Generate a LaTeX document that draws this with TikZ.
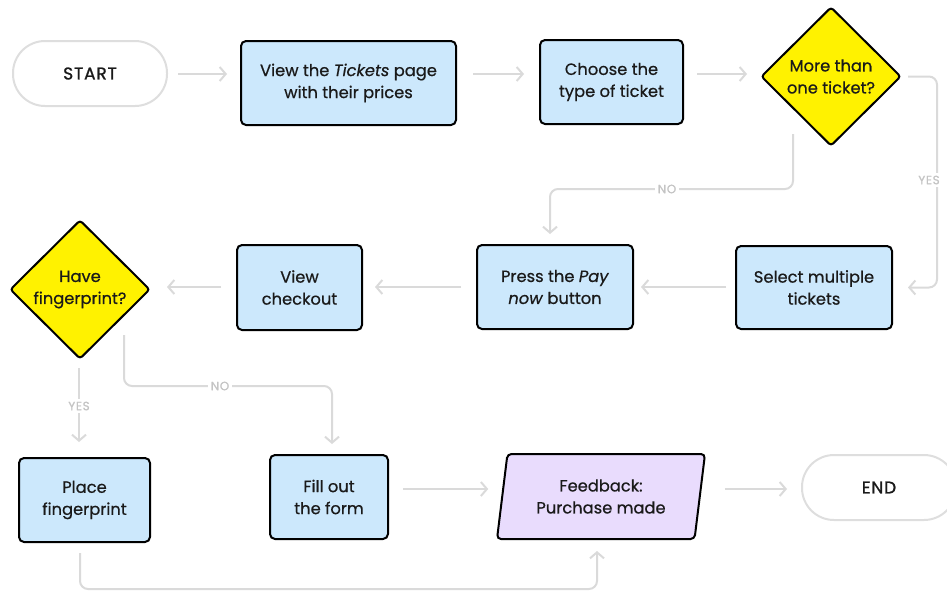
\documentclass[tikz,border=0pt]{standalone}
\usepackage{fontspec}
\setmainfont{Poppins}[UprightFeatures={FakeBold=0.6}, ItalicFeatures={FakeBold=0.6}]
\newfontfamily\termfont{Poppins}[FakeBold=1.2, LetterSpace=5]
\newfontfamily\lblfont{Poppins}[FakeBold=1, LetterSpace=5]
\usetikzlibrary{shapes.geometric,arrows.meta,calc}
\definecolor{boxblue}{RGB}{204,232,252}
\definecolor{decyellow}{RGB}{255,242,0}
\definecolor{iolav}{RGB}{233,220,253}
\definecolor{termgray}{RGB}{222,222,222}
\definecolor{conngray}{RGB}{218,218,218}
\definecolor{lblgray}{RGB}{196,196,196}
\definecolor{ink}{RGB}{26,26,26}
\begin{document}
\begin{tikzpicture}[x=1pt,y=-1pt,
 txt/.style={font=\fontsize{16.3}{22}\selectfont, text=ink, align=center},
 proc/.style={txt, draw=black, line width=2pt, fill=boxblue, rounded corners=5pt, inner sep=0pt},
 term/.style={font=\termfont\fontsize{17}{20}\selectfont, text=ink, draw=termgray, line width=2pt, fill=white, rounded corners=32pt, minimum width=154pt, minimum height=65pt},
 dec/.style={txt, diamond, draw=black, line width=2pt, fill=decyellow, rounded corners=3pt, minimum width=140pt, minimum height=139pt, inner sep=0pt},
 io/.style={txt, trapezium, trapezium left angle=73, trapezium right angle=107, trapezium stretches body, draw=black, line width=2pt, fill=iolav, rounded corners=4pt, minimum width=208pt, minimum height=85pt, inner sep=0pt},
 conn/.style={draw=conngray, line width=2pt, rounded corners=8pt, -{Straight Barb[length=6pt,width=14pt]}},
 lbl/.style={fill=white, text=lblgray, font=\lblfont\fontsize{12}{14}\selectfont, inner sep=3pt}]
\useasboundingbox (0,0) rectangle (947,592);
% nodes
\node[term] (start) at (90,73.5) {START};
\node[proc, minimum width=215pt, minimum height=84pt] (view) at (348.5,83) {View the \textit{Tickets} page\\with their prices};
\node[proc, minimum width=143pt, minimum height=84pt] (choose) at (611.5,82) {Choose the\\type of ticket};
\node[dec] (mto) at (831,76.5) {More than\\one ticket?};
\node[proc, minimum width=156pt, minimum height=83pt] (sel) at (814,287.5) {Select multiple\\tickets};
\node[proc, minimum width=156pt, minimum height=84pt] (press) at (555,287) {Press the \textit{Pay}\\\textit{now} button};
\node[proc, minimum width=125pt, minimum height=85pt] (vc) at (299.5,287.5) {View\\checkout};
\node[dec] (hf) at (80,289.5) {Have\\fingerprint?};
\node[proc, minimum width=131pt, minimum height=84pt] (place) at (84.5,500) {Place\\fingerprint};
\node[proc, minimum width=118pt, minimum height=84pt] (fill) at (329,497) {Fill out\\the form};
\node[io] (fb) at (601,496.5) {Feedback:\\Purchase made};
\node[term] (end) at (879,487.5) {END};
% helper coordinates
\coordinate (r1) at (0,74);
\coordinate (r2) at (0,287);
\coordinate (r3) at (0,489);
\coordinate (yx) at (937,0);
\coordinate (no1a) at (793,134);
\coordinate (no1b) at (550,189);
\coordinate (y2a) at (79,368);
\coordinate (n2a) at (124,335);
\coordinate (n2b) at (332,386);
\coordinate (pb) at (80,553);
\coordinate (p3) at (597,589);
% row 1
\draw[conn, shorten <=10pt, shorten >=13pt] (start.east |- r1) -- (view.west |- r1);
\draw[conn, shorten <=16pt, shorten >=15pt] (view.east |- r1) -- (choose.west |- r1);
\draw[conn, shorten <=13pt, shorten >=13pt] (choose.east |- r1) -- (mto.west |- r1);
% decision 1
\draw[conn, shorten <=6pt, shorten >=15pt] (mto.east) -- (mto.east -| yx) -- (yx |- sel.east) -- (sel.east);
\node[lbl] (yes1) at (929,180) {YES};
\draw[conn, shorten >=10pt] (no1a) |- (no1b) -- (no1b |- press.north);
\node[lbl] (no1) at (667,189) {NO};
% row 2
\draw[conn, shorten <=9pt, shorten >=7pt] (sel.west |- r2) -- (press.east |- r2);
\draw[conn, shorten <=15pt, shorten >=12pt] (press.west |- r2) -- (vc.east |- r2);
\draw[conn, shorten <=15pt, shorten >=16pt] (vc.west |- r2) -- (hf.east |- r2);
% decision 2
\draw[conn, shorten >=15pt] (y2a) -- (y2a |- place.north);
\node[lbl] (yes2) at (79,406) {YES};
\draw[conn, shorten >=10pt] (n2a) |- (n2b) -- (n2b |- fill.north);
\node[lbl] (no2) at (220,386) {NO};
% row 3
\draw[conn, shorten <=14pt, shorten >=13pt] (fill.east |- r3) -- (fb.west |- r3);
\draw[conn, shorten <=24pt, shorten >=14pt] (fb.east |- r3) -- (end.west |- r3);
\draw[conn, shorten >=11pt] (pb) |- (p3) -- (p3 |- fb.south);
\end{tikzpicture}
\end{document}
